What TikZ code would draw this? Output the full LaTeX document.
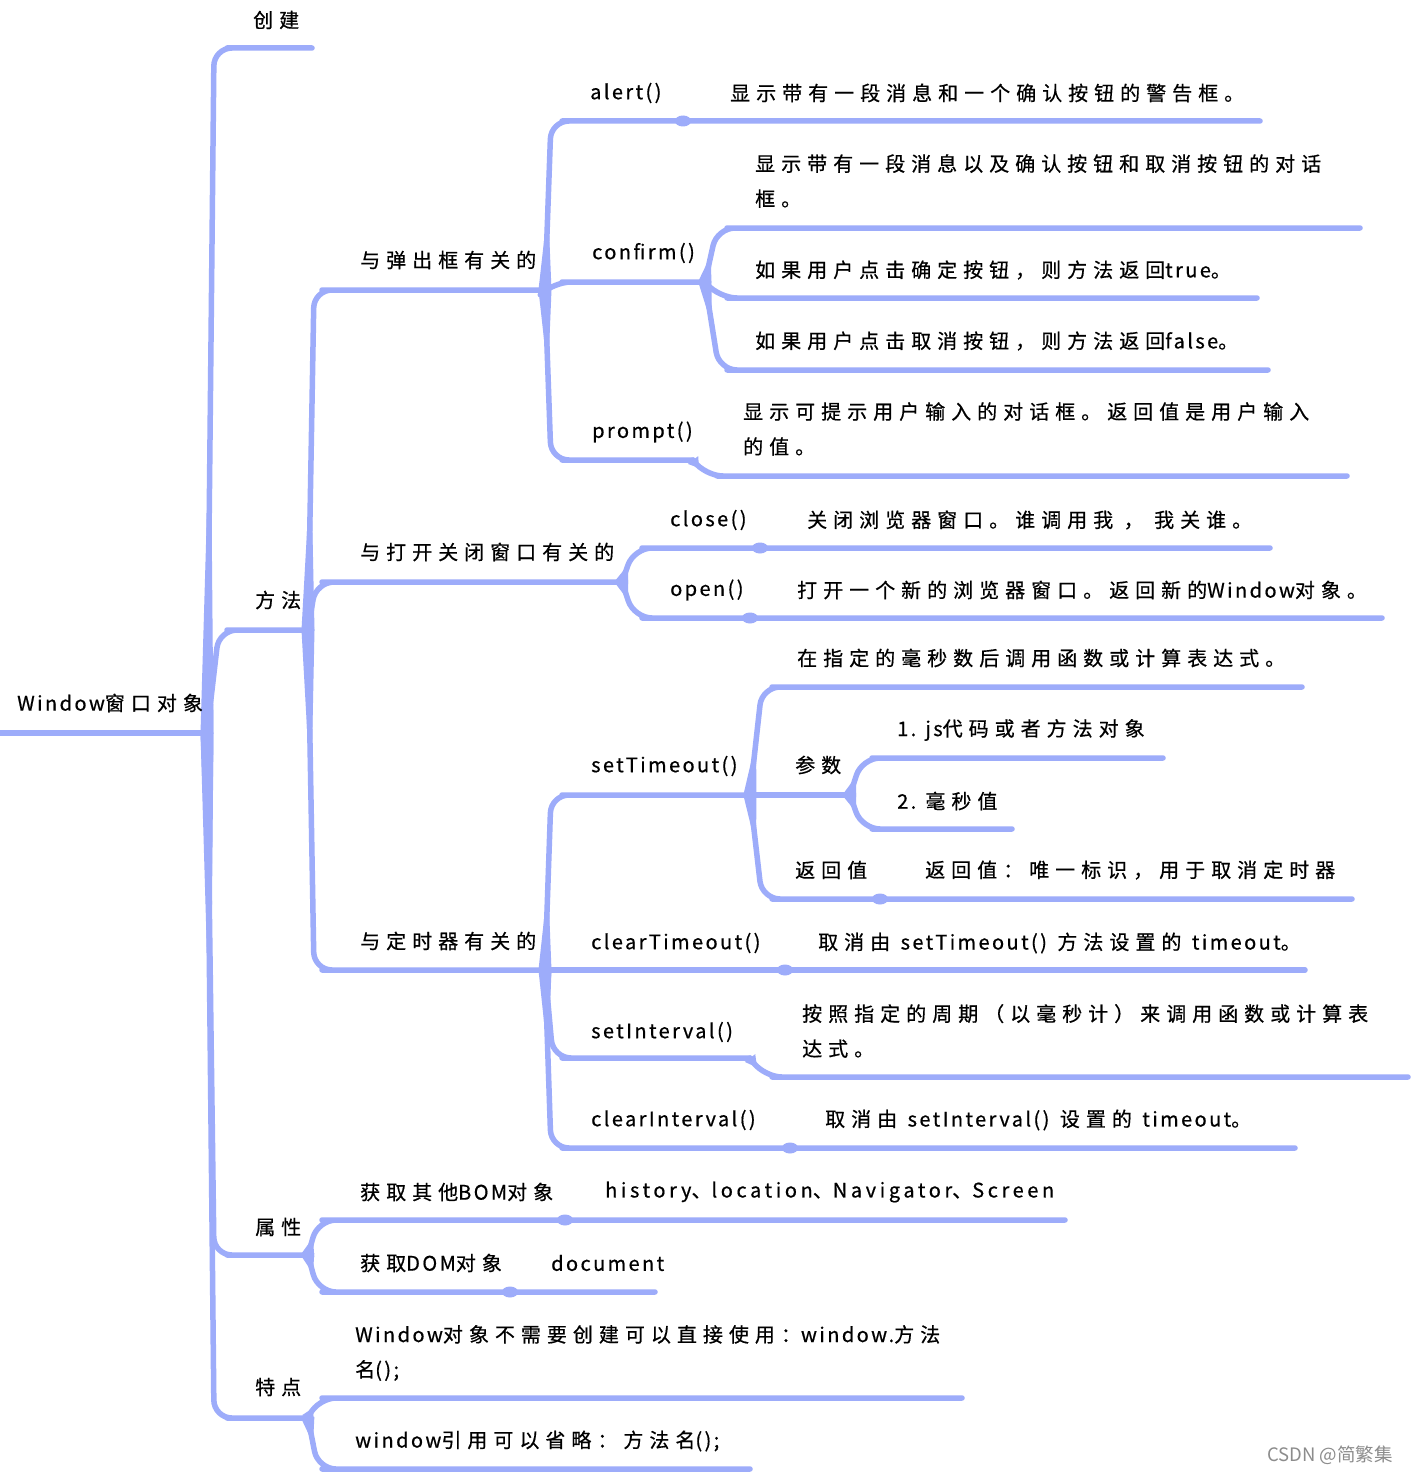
\documentclass[tikz,border=0pt]{standalone}
\usepackage{fontspec}
\newfontfamily\hand[LetterSpace=30,FakeBold=0.6]{Noto Sans CJK SC}
\newfontfamily\handlat[LetterSpace=12,FakeBold=0.6]{Noto Sans CJK SC}
\newfontfamily\handlatw[LetterSpace=18,FakeBold=0.6]{Noto Sans CJK SC}
\newfontfamily\wmfont{Noto Sans CJK SC}
\newcommand\lt[1]{{\handlat #1}}
\newcommand\ltw[1]{{\handlatw #1}}
\usetikzlibrary{calc}
\definecolor{bl}{RGB}{157,172,250}
\tikzset{
  conn/.style={draw=bl,line width=5.5pt,rounded corners=18pt,line cap=round,line join=round},
  txt/.style={anchor=west,inner sep=0pt,font=\hand\fontsize{20}{35}\selectfont,align=left,text=black},
  blob/.style={fill=bl}
}
% fork, dx, start, end
\newcommand\mmbr[4]{%
  \coordinate (tmpc) at ($(#1 |- #3)+(#2,0)$);
  \draw[conn] (#1) -- (tmpc) -- (#3) -- (#4);
  \fill[bl] ($(#1)!6.5pt!90:(tmpc)$) -- ($(#1)!0.5!(tmpc)$) -- ($(#1)!6.5pt!-90:(tmpc)$) -- cycle;
}
\newcommand\mmblob[1]{\fill[blob] (#1) ellipse (8pt and 5.5pt);}
\begin{document}
\begin{tikzpicture}[x=1pt,y=-1pt]
\useasboundingbox (0,0) rectangle (1413,1474);
\fill[white] (0,0) rectangle (1413,1474);

% ---------- coordinates ----------
\coordinate (R) at (207,733);
\coordinate (cjS) at (245,48);   \coordinate (cjE) at (312,48);
\coordinate (ffS) at (245,630);  \coordinate (ffE) at (308,630);
\coordinate (sxS) at (245,1255); \coordinate (sxE) at (308,1255);
\coordinate (tdS) at (245,1418); \coordinate (tdE) at (308,1418);

\coordinate (tcS) at (340,290);  \coordinate (tcE) at (545,290);
\coordinate (kgS) at (340,582);  \coordinate (kgE) at (622,582);
\coordinate (dsS) at (340,970);  \coordinate (dsE) at (545,970);

\coordinate (alS) at (580,121);  \coordinate (alM) at (683,121); \coordinate (alE) at (1260,121);
\coordinate (cfS) at (580,282);  \coordinate (cfE) at (705,282);
\coordinate (prS) at (580,460);  \coordinate (prE) at (693,460);
\coordinate (cf1S) at (745,228); \coordinate (cf1E) at (1360,228);
\coordinate (cf2S) at (745,298); \coordinate (cf2E) at (1257,298);
\coordinate (cf3S) at (745,370); \coordinate (cf3E) at (1268,370);
\coordinate (pr1S) at (735,476); \coordinate (pr1E) at (1347,476);

\coordinate (clS) at (660,548);  \coordinate (clM) at (760,548); \coordinate (clE) at (1270,548);
\coordinate (opS) at (660,618);  \coordinate (opM) at (750,618); \coordinate (opE) at (1382,618);

\coordinate (stS) at (580,795);  \coordinate (stE) at (750,795);
\coordinate (ctS) at (580,970);  \coordinate (ctM) at (785,970); \coordinate (ctE) at (1305,970);
\coordinate (siS) at (580,1058); \coordinate (siE) at (750,1058);
\coordinate (ciS) at (580,1148); \coordinate (ciM) at (790,1148); \coordinate (ciE) at (1295,1148);
\coordinate (si1S) at (790,1077); \coordinate (si1E) at (1408,1077);

\coordinate (st1S) at (790,687); \coordinate (st1E) at (1302,687);
\coordinate (csS) at (790,795);  \coordinate (csE) at (850,795);
\coordinate (fhS) at (790,899);  \coordinate (fhM) at (880,899); \coordinate (fhE) at (1352,899);
\coordinate (cs1S) at (890,758); \coordinate (cs1E) at (1163,758);
\coordinate (cs2S) at (890,829); \coordinate (cs2E) at (1012,829);

\coordinate (bomS) at (340,1220); \coordinate (bomM) at (565,1220); \coordinate (bomE) at (1065,1220);
\coordinate (domS) at (340,1292); \coordinate (domM) at (510,1292); \coordinate (domE) at (655,1292);
\coordinate (td1S) at (340,1398); \coordinate (td1E) at (962,1398);
\coordinate (td2S) at (340,1469); \coordinate (td2E) at (750,1469);

% ---------- connectors ----------
\draw[conn] (0,733) -- (R);
\mmbr{R}{7}{cjS}{cjE}
\mmbr{R}{12}{ffS}{ffE}
\mmbr{R}{7}{sxS}{sxE}
\mmbr{R}{7}{tdS}{tdE}

\mmbr{ffE}{6}{tcS}{tcE}
\mmbr{ffE}{8}{kgS}{kgE}
\mmbr{ffE}{6}{dsS}{dsE}

\mmbr{tcE}{6}{alS}{alE}
\mmbr{tcE}{8}{cfS}{cfE}
\mmbr{tcE}{6}{prS}{prE}
\mmbr{cfE}{12}{cf1S}{cf1E}
\mmbr{cfE}{14}{cf2S}{cf2E}
\mmbr{cfE}{14}{cf3S}{cf3E}
\mmbr{prE}{12}{pr1S}{pr1E}

\mmbr{kgE}{12}{clS}{clE}
\mmbr{kgE}{12}{opS}{opE}

\mmbr{dsE}{6}{stS}{stE}
\mmbr{dsE}{20}{ctS}{ctE}
\mmbr{dsE}{8}{siS}{siE}
\mmbr{dsE}{6}{ciS}{ciE}
\mmbr{siE}{14}{si1S}{si1E}

\mmbr{stE}{12}{st1S}{st1E}
\mmbr{stE}{20}{csS}{csE}
\mmbr{stE}{12}{fhS}{fhE}
\mmbr{csE}{12}{cs1S}{cs1E}
\mmbr{csE}{12}{cs2S}{cs2E}

\mmbr{sxE}{10}{bomS}{bomE}
\mmbr{sxE}{10}{domS}{domE}
\mmbr{tdE}{10}{td1S}{td1E}
\mmbr{tdE}{10}{td2S}{td2E}

\mmblob{alM}\mmblob{clM}\mmblob{opM}\mmblob{ctM}\mmblob{ciM}\mmblob{fhM}\mmblob{bomM}\mmblob{domM}

% ---------- texts ----------
\node[txt] (root) at (17,703) {\lt{Window}窗口对象};
\node[txt] (cj) at (253,20) {创建};
\node[txt] (ff) at (255,600) {方法};
\node[txt] (sx) at (255,1227) {属性};
\node[txt] (td) at (255,1387) {特点};

\node[txt] (tc) at (360,260) {与弹出框有关的};
\node[txt] (kg) at (360,552) {与打开关闭窗口有关的};
\node[txt] (ds) at (360,941) {与定时器有关的};

\node[txt] (al) at (590,93) {\lt{alert()}};
\node[txt] (ald) at (730,93) {显示带有一段消息和一个确认按钮的警告框。};
\node[txt] (cf) at (592,253) {\lt{confirm()}};
\node[txt] (cf1) at (755,181) {显示带有一段消息以及确认按钮和取消按钮的对话\\框。};
\node[txt] (cf2) at (755,270) {如果用户点击确定按钮，则方法返回\lt{true}。};
\node[txt] (cf3) at (755,341) {如果用户点击取消按钮，则方法返回\lt{false}。};
\node[txt] (pr) at (592,432) {\lt{prompt()}};
\node[txt] (pr1) at (743,429) {显示可提示用户输入的对话框。返回值是用户输入\\的值。};

\node[txt] (cl) at (670,520) {\lt{close()}};
\node[txt] (cld) at (807,520) {关闭浏览器窗口。谁调用我 ， 我关谁。};
\node[txt] (op) at (670,590) {\lt{open()}};
\node[txt] (opd) at (797,590) {打开一个新的浏览器窗口。返回新的\lt{Window}对象。};

\node[txt] (st) at (591,766) {\lt{setTimeout()}};
\node[txt] (st1) at (797,658) {在指定的毫秒数后调用函数或计算表达式。};
\node[txt] (cs) at (795,765) {参数};
\node[txt] (cs1) at (897,730) {\lt{1. js}代码或者方法对象};
\node[txt] (cs2) at (897,801) {\lt{2. }毫秒值};
\node[txt] (fh) at (795,870) {返回值};
\node[txt] (fhd) at (925,870) {返回值：唯一标识，用于取消定时器};

\node[txt] (ct) at (591,943) {\lt{clearTimeout()}};
\node[txt] (ctd) at (818,943) {取消由 \lt{setTimeout()} 方法设置的 \lt{timeout}。};
\node[txt] (si) at (591,1032) {\lt{setInterval()}};
\node[txt] (si1) at (802,1031) {按照指定的周期（以毫秒计）来调用函数或计算表\\达式。};
\node[txt] (ci) at (591,1120) {\lt{clearInterval()}};
\node[txt] (cid) at (825,1120) {取消由 \lt{setInterval()} 设置的 \lt{timeout}。};

\node[txt] (bom) at (360,1192) {获取其他\lt{BOM}对象};
\node[txt] (bomd) at (605,1192) {\ltw{history}、\ltw{location}、\ltw{Navigator}、\ltw{Screen}};
\node[txt] (dom) at (360,1263) {获取\lt{DOM}对象};
\node[txt] (domd) at (551,1263) {\lt{document}};

\node[txt] (td1) at (355,1353) {\lt{Window}对象不需要创建可以直接使用：\lt{window.}方法\\名\lt{();}};
\node[txt] (td2) at (355,1441) {\lt{window}引用可以省略：方法名\lt{();}};

\node[anchor=west,inner sep=0pt,font=\wmfont\fontsize{18.5}{20}\selectfont,text=black!45] (wm) at (1267,1455) {CSDN @简繁集};
\end{tikzpicture}
\end{document}
